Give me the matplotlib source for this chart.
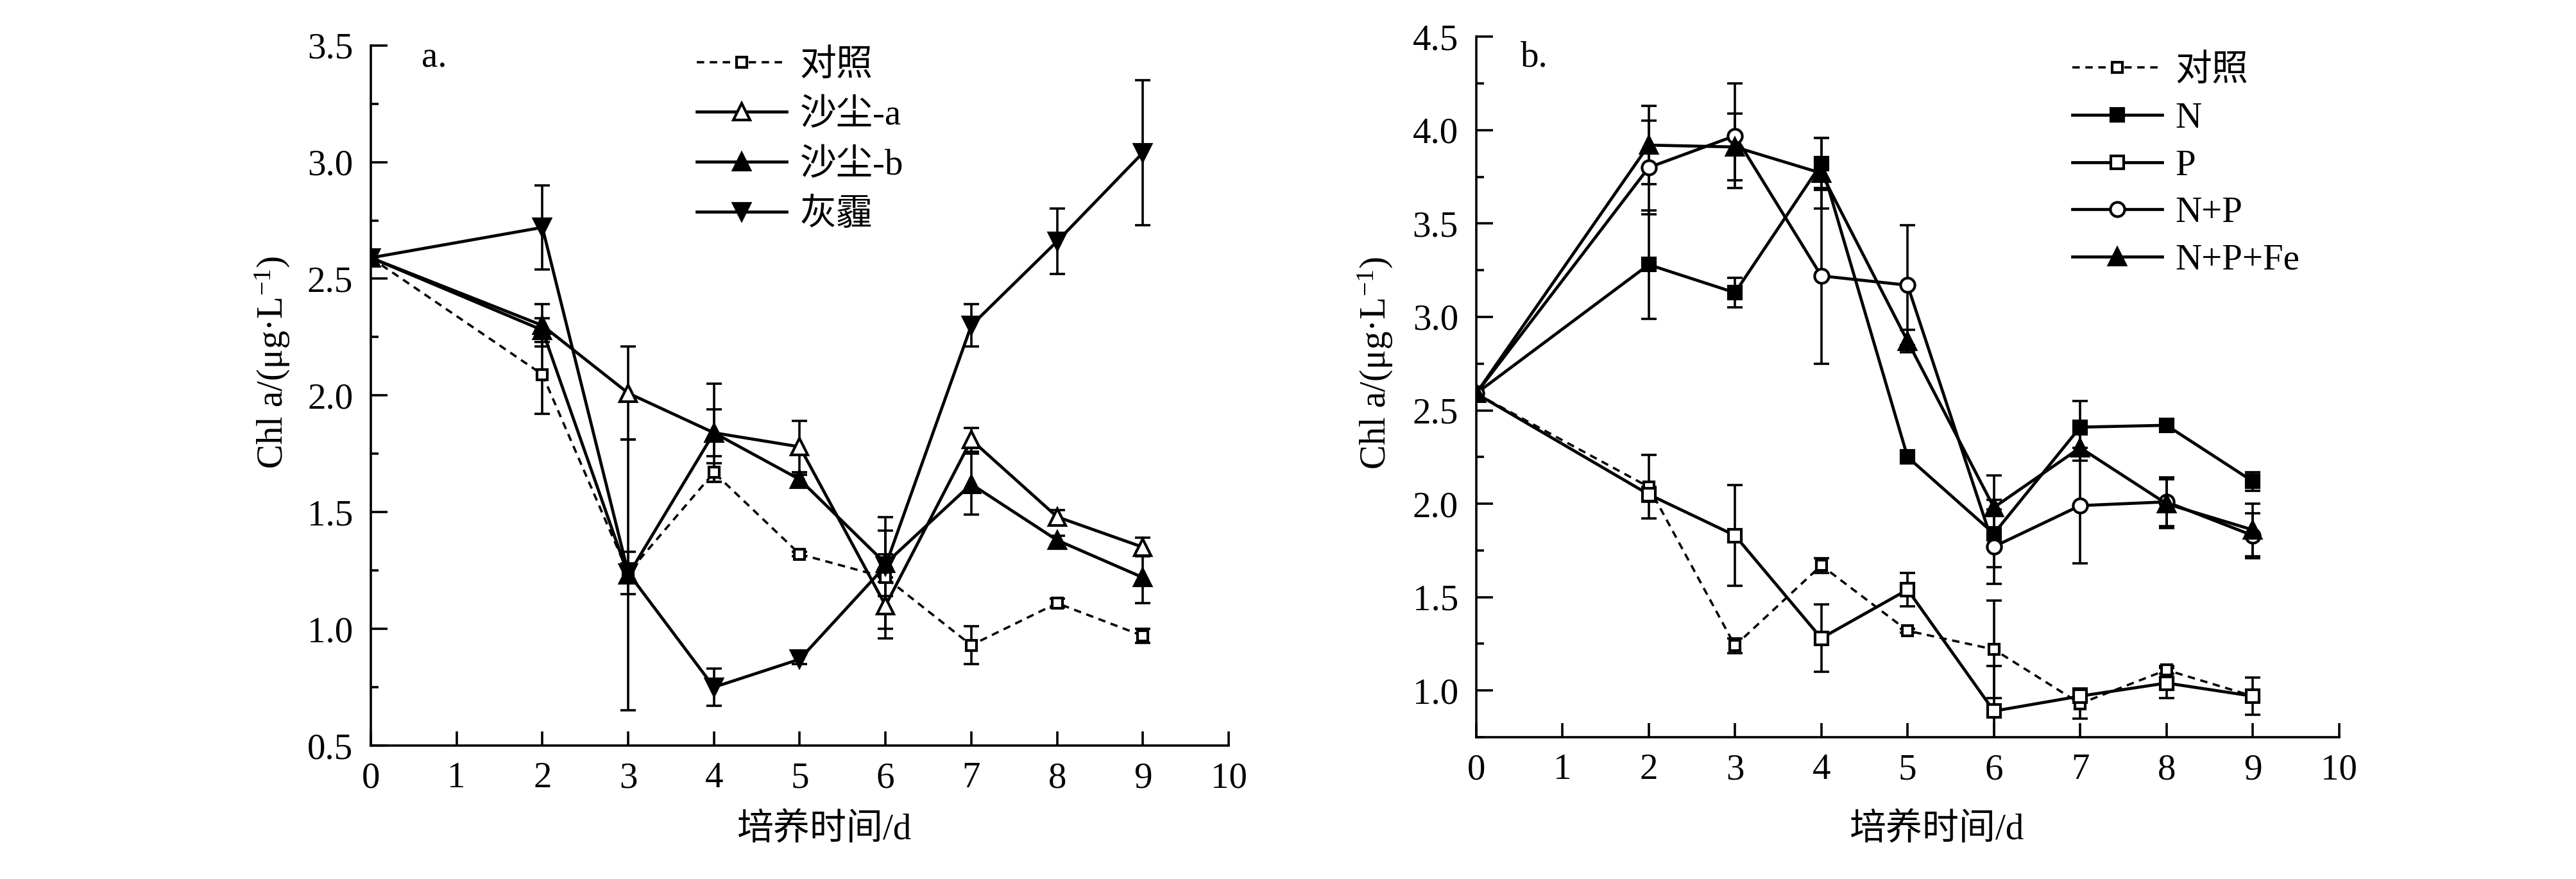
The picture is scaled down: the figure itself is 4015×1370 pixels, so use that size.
import matplotlib.pyplot as plt
from matplotlib.ticker import MultipleLocator

plt.rcParams['font.family'] = ['Liberation Serif', 'Noto Sans CJK SC']
plt.rcParams['mathtext.fontset'] = 'custom'
plt.rcParams['mathtext.rm'] = 'Liberation Serif'
plt.rcParams['mathtext.default'] = 'regular'

# ------------------------------------------------------------------
# data (Chl a, ug/L, mean and error)
# ------------------------------------------------------------------
DAYS = [0, 2, 3, 4, 5, 6, 7, 8, 9]

CTRL = [2.59, 2.09, 1.24, 1.67, 1.32, 1.22, 0.93, 1.11, 0.97]
CTRL_ERR = [0, 0.17, 0.04, 0.04, 0.01, 0.26, 0.08, 0.02, 0.03]

DUST_A = [2.59, 2.30, 2.01, 1.84, 1.78, 1.10, 1.81, 1.48, 1.35]
DUST_A_ERR = [0, 0.09, 0.20, 0.21, 0.11, 0.10, 0.05, 0.03, 0.04]

DUST_B = [2.59, 2.28, 1.23, 1.84, 1.64, 1.28, 1.62, 1.38, 1.22]
DUST_B_ERR = [0, 0.05, 0.58, 0.10, 0.02, 0.14, 0.13, 0.02, 0.11]

HAZE = [2.59, 2.72, 1.24, 0.75, 0.87, 1.27, 2.30, 2.66, 3.04]
HAZE_ERR = [0, 0.18, 0.09, 0.08, 0.02, 0.05, 0.09, 0.14, 0.31]

N = [2.59, 3.28, 3.13, 3.82, 2.25, 1.84, 2.41, 2.42, 2.12]
N_ERR = [0, 0.29, 0.08, 0.14, 0.03, 0.18, 0.14, 0.02, 0.05]

P = [2.59, 2.05, 1.83, 1.28, 1.54, 0.89, 0.97, 1.04, 0.97]
P_ERR = [0, 0.04, 0.27, 0.18, 0.09, 0.24, 0.03, 0.08, 0.10]

NP = [2.59, 3.80, 3.97, 3.22, 3.17, 1.77, 1.99, 2.01, 1.83]
NP_ERR = [0, 0.25, 0.28, 0.47, 0.32, 0.20, 0.31, 0.13, 0.12]

NPFE = [2.59, 3.92, 3.91, 3.77, 2.87, 1.98, 2.30, 2.00, 1.86]
NPFE_ERR = [0, 0.21, 0.18, 0.19, 0.06, 0.17, 0.07, 0.13, 0.14]

LABELS_A = ['对照', '沙尘-a', '沙尘-b', '灰霾']
LABELS_B = ['对照', 'N', 'P', 'N+P', 'N+P+Fe']

YLABEL = r'Chl a/(μg·L$^{-1}$)'
XLABEL = '培养时间/d'

FS = 20.5
LW = 1.7

# marker, face colour, marker size, dashed?
STYLE = {
    '对照': ('s', 'white', 5.5, True),
    '沙尘-a': ('^', 'white', 9.5, False),
    '沙尘-b': ('^', 'black', 9.5, False),
    '灰霾': ('v', 'black', 9.5, False),
    'N': ('s', 'black', 7, False),
    'P': ('s', 'white', 7, False),
    'N+P': ('o', 'white', 8, False),
    'N+P+Fe': ('^', 'black', 9.5, False),
}


def draw_series(ax, label, vals, err):
    marker, face, ms, dashed = STYLE[label]
    ax.errorbar(DAYS, vals, yerr=err, fmt='none', ecolor='black',
                elinewidth=1.3, capsize=4.2, capthick=1.3, zorder=2)
    line, = ax.plot(DAYS, vals, color='black', lw=LW, marker=marker,
                    ms=ms, mfc=face, mec='black', mew=1.5,
                    label=label, zorder=3)
    if dashed:
        line.set_linewidth(1.3)
        line.set_linestyle('--')
        line.set_dashes((3.2, 2.4))


def style_axes(ax, ylim):
    ax.set_xlim(0, 10)
    ax.set_ylim(*ylim)
    ax.spines['top'].set_visible(False)
    ax.spines['right'].set_visible(False)
    for sp in ('left', 'bottom'):
        ax.spines[sp].set_linewidth(1.3)
    ax.xaxis.set_major_locator(MultipleLocator(1))
    ax.yaxis.set_major_locator(MultipleLocator(0.5))
    ax.yaxis.set_minor_locator(MultipleLocator(0.25))
    ax.yaxis.set_major_formatter(plt.FormatStrFormatter('%.1f'))
    ax.tick_params(axis='both', which='both', direction='in',
                   width=1.3, labelsize=FS)
    ax.tick_params(axis='y', which='major', length=9.2, pad=10)
    ax.tick_params(axis='y', which='minor', length=4.3)
    ax.tick_params(axis='x', which='major', length=8, pad=9)
    ax.set_ylabel(YLABEL, fontsize=FS, va='center')
    ax.set_xlabel(XLABEL, fontsize=FS, va='center')


fig = plt.figure(figsize=(20.08, 6.85), dpi=200)

# ---------------- panel a ----------------
ax_a = fig.add_axes([0.14392, 0.15182, 0.33292, 0.79657])
for lab, v, e in zip(LABELS_A, [CTRL, DUST_A, DUST_B, HAZE],
                     [CTRL_ERR, DUST_A_ERR, DUST_B_ERR, HAZE_ERR]):
    draw_series(ax_a, lab, v, e)
style_axes(ax_a, (0.5, 3.5))
ax_a.yaxis.set_label_coords(-0.1144, 0.547)
ax_a.xaxis.set_label_coords(0.529, -0.120)
ax_a.text(0.059, 0.9686, 'a.', transform=ax_a.transAxes, fontsize=FS,
          ha='left', va='baseline')
ax_a.legend(loc='upper left', bbox_to_anchor=(0.380, 0.995),
            frameon=False, fontsize=FS, handlelength=2.46,
            handletextpad=0.36, labelspacing=0.44, borderpad=0,
            borderaxespad=0, numpoints=1)

# ---------------- panel b ----------------
ax_b = fig.add_axes([0.57288, 0.16131, 0.33491, 0.79686])
for lab, v, e in zip(LABELS_B, [CTRL, N, P, NP, NPFE],
                     [CTRL_ERR, N_ERR, P_ERR, NP_ERR, NPFE_ERR]):
    draw_series(ax_b, lab, v, e)
style_axes(ax_b, (0.75, 4.5))
ax_b.yaxis.set_label_coords(-0.1165, 0.534)
ax_b.xaxis.set_label_coords(0.534, -0.132)
ax_b.text(0.0515, 0.958, 'b.', transform=ax_b.transAxes, fontsize=FS,
          ha='left', va='baseline')
ax_b.legend(loc='upper left', bbox_to_anchor=(0.691, 0.975),
            frameon=False, fontsize=FS, handlelength=2.46,
            handletextpad=0.36, labelspacing=0.38, borderpad=0,
            borderaxespad=0, numpoints=1)

fig.savefig('out.png', dpi=200)
